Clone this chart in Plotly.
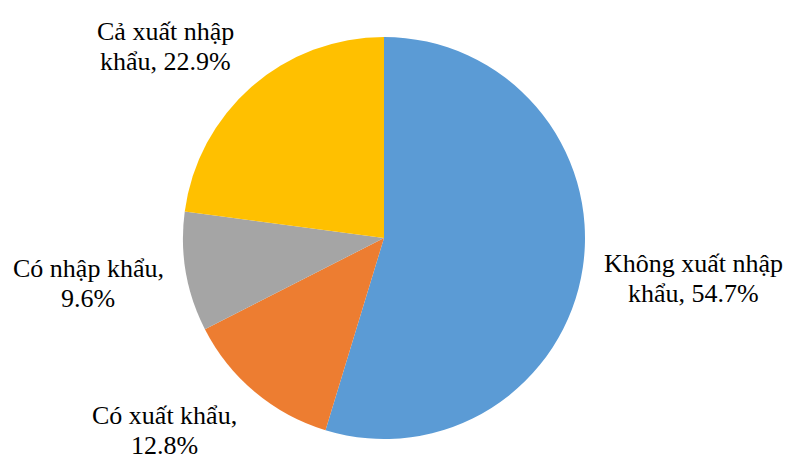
import plotly.graph_objects as go

categories = ["Không xuất nhập khẩu", "Có xuất khẩu", "Có nhập khẩu", "Cả xuất nhập khẩu"]
values = [54.7, 12.8, 9.6, 22.9]
colors = ["#5B9BD5", "#ED7D31", "#A5A5A5", "#FFC000"]
# word index after which the label wraps
break_after = [3, 3, 3, 3]
label_pos = [(693, 278), (164, 430), (88, 283), (165, 46)]  # pixel centres
LINE_GAP = 30

W, H = 787, 459

fig = go.Figure(go.Pie(
    labels=categories, values=values, sort=False, direction="clockwise",
    rotation=0, marker=dict(colors=colors, line=dict(width=0)),
    textinfo="none", hoverinfo="label+percent", showlegend=False,
    domain=dict(x=[183 / W, 585 / W], y=[20 / H, 422 / H]),
))

for cat, v, b, (px, py) in zip(categories, values, break_after, label_pos):
    words = f"{cat}, {v}%".split(" ")
    lines = [" ".join(words[:b]), " ".join(words[b:])]
    for i, line in enumerate(lines):
        ly = py + (i - 0.5) * LINE_GAP
        fig.add_annotation(x=px / W, y=1 - ly / H, xref="paper", yref="paper",
                           text=line, showarrow=False, xanchor="center", yanchor="middle",
                           borderpad=0,
                           font=dict(family="Liberation Serif", size=26, color="#000"))

fig.update_layout(width=W, height=H, margin=dict(l=0, r=0, t=0, b=0),
                  paper_bgcolor="white", plot_bgcolor="white")
fig.write_html("out.html")
